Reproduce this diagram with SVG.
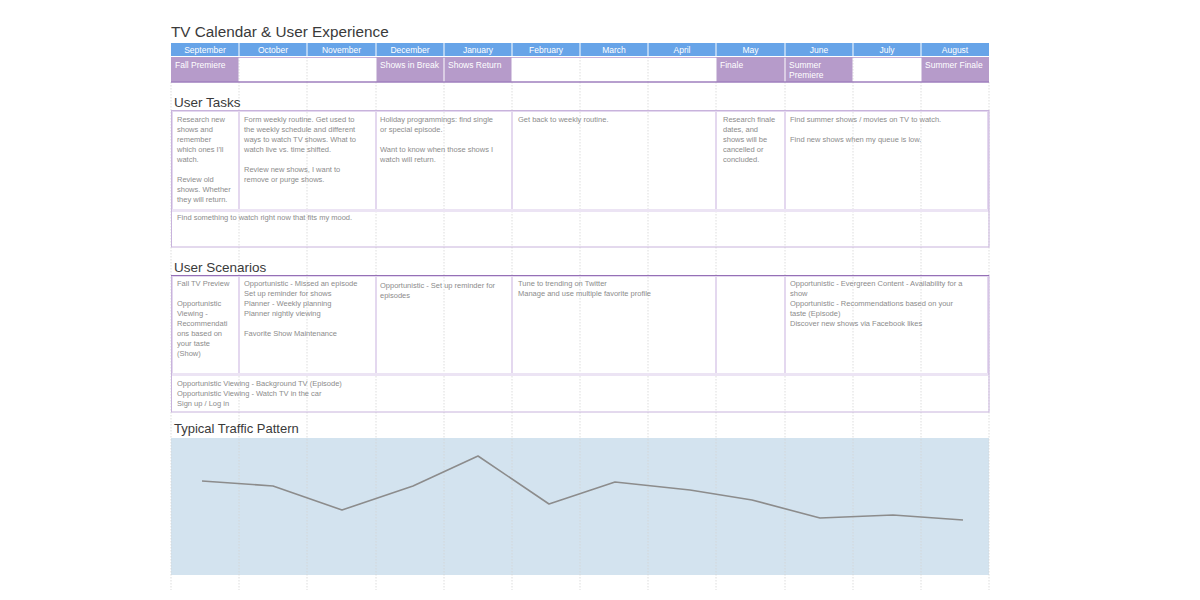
<svg xmlns="http://www.w3.org/2000/svg" width="1200" height="600" viewBox="0 0 1200 600">
<style>
.title{font-family:"Helvetica Neue","Liberation Sans",Arial,sans-serif;fill:#3a3a3a}
.hd{font-family:"Liberation Sans",Arial,sans-serif;font-size:8.5px;fill:#fff;text-anchor:middle}
.ev{font-family:"Liberation Sans",Arial,sans-serif;font-size:8.5px;fill:#fff}
.tx{font-family:"Liberation Sans",Arial,sans-serif;font-size:7.5px;fill:#8c8c8c}
.hcell{fill:#67a4e8}
.evp{fill:#b69bca}
.grid{stroke:#d4d4d4;stroke-width:0.8;stroke-dasharray:1.5,1.5}
.cell{fill:none;stroke:#e4d8ef;stroke-width:2}
</style>
<rect width="1200" height="600" fill="#fff"/>
<text class="title" x="171" y="37" font-size="15.3">TV Calendar &amp; User Experience</text>

<g id="traffic-area"><rect x="171" y="438" width="818" height="137" fill="#d3e3ef"/></g>

<g id="gridlines">
<line class="grid" x1="171" y1="82" x2="171" y2="590"/>
<line class="grid" x1="239" y1="82" x2="239" y2="590"/>
<line class="grid" x1="307" y1="82" x2="307" y2="590"/>
<line class="grid" x1="376" y1="82" x2="376" y2="590"/>
<line class="grid" x1="444" y1="82" x2="444" y2="590"/>
<line class="grid" x1="512" y1="82" x2="512" y2="590"/>
<line class="grid" x1="580" y1="82" x2="580" y2="590"/>
<line class="grid" x1="648" y1="82" x2="648" y2="590"/>
<line class="grid" x1="716" y1="82" x2="716" y2="590"/>
<line class="grid" x1="785" y1="82" x2="785" y2="590"/>
<line class="grid" x1="853" y1="82" x2="853" y2="590"/>
<line class="grid" x1="921" y1="82" x2="921" y2="590"/>
<line class="grid" x1="989" y1="82" x2="989" y2="590"/>
<line class="grid" x1="239" y1="57" x2="239" y2="82"/>
<line class="grid" x1="307" y1="57" x2="307" y2="82"/>
<line class="grid" x1="580" y1="57" x2="580" y2="82"/>
<line class="grid" x1="648" y1="57" x2="648" y2="82"/>
<line class="grid" x1="853" y1="57" x2="853" y2="82"/>
</g>

<g id="months">
<rect class="hcell" x="171" y="43" width="67.5" height="13"/>
<rect class="hcell" x="239.5" y="43" width="67" height="13"/>
<rect class="hcell" x="307.5" y="43" width="68" height="13"/>
<rect class="hcell" x="376.5" y="43" width="67" height="13"/>
<rect class="hcell" x="444.5" y="43" width="67" height="13"/>
<rect class="hcell" x="512.5" y="43" width="67" height="13"/>
<rect class="hcell" x="580.5" y="43" width="67" height="13"/>
<rect class="hcell" x="648.5" y="43" width="67" height="13"/>
<rect class="hcell" x="716.5" y="43" width="68" height="13"/>
<rect class="hcell" x="785.5" y="43" width="67" height="13"/>
<rect class="hcell" x="853.5" y="43" width="67" height="13"/>
<rect class="hcell" x="921.5" y="43" width="67.5" height="13"/>
<text class="hd" x="205" y="52.5">September</text>
<text class="hd" x="273" y="52.5">October</text>
<text class="hd" x="341.5" y="52.5">November</text>
<text class="hd" x="410" y="52.5">December</text>
<text class="hd" x="478" y="52.5">January</text>
<text class="hd" x="546" y="52.5">February</text>
<text class="hd" x="614" y="52.5">March</text>
<text class="hd" x="682" y="52.5">April</text>
<text class="hd" x="750.5" y="52.5">May</text>
<text class="hd" x="819" y="52.5">June</text>
<text class="hd" x="887" y="52.5">July</text>
<text class="hd" x="955" y="52.5">August</text>
</g>

<g id="events">
<line x1="171" y1="57.5" x2="989" y2="57.5" stroke="#c7b2da" stroke-width="1"/>
<rect class="evp" x="171" y="57" width="67.5" height="25"/>
<rect class="evp" x="376.5" y="57" width="67" height="25"/>
<rect class="evp" x="444.5" y="57" width="67" height="25"/>
<rect class="evp" x="716.5" y="57" width="68" height="25"/>
<rect class="evp" x="785.5" y="57" width="67" height="25"/>
<rect class="evp" x="921.5" y="57" width="67.5" height="25"/>
<line x1="171" y1="82" x2="989" y2="82" stroke="#9f7fbe" stroke-width="1.5"/>
<text class="ev" x="175" y="68">Fall Premiere</text>
<text class="ev" x="380" y="68">Shows in Break</text>
<text class="ev" x="448" y="68">Shows Return</text>
<text class="ev" x="720" y="68">Finale</text>
<text class="ev" x="789" y="68">Summer</text>
<text class="ev" x="789" y="78">Premiere</text>
<text class="ev" x="925" y="68">Summer Finale</text>
</g>

<g id="user-tasks">
<text class="title" x="174" y="107" font-size="13.5">User Tasks</text>
<rect class="cell" x="172" y="111" width="67" height="99"/>
<rect class="cell" x="239" y="111" width="137" height="99"/>
<rect class="cell" x="376" y="111" width="136" height="99"/>
<rect class="cell" x="512" y="111" width="204" height="99"/>
<rect class="cell" x="716" y="111" width="69" height="99"/>
<rect class="cell" x="785" y="111" width="203" height="99"/>
<line x1="172" y1="210.5" x2="988" y2="210.5" stroke="#ece4f4" stroke-width="3"/>
<rect x="171.5" y="110.5" width="817.5" height="136.5" fill="none" stroke="#c8b3dc" stroke-width="1"/>
<text class="tx" x="177" y="122"><tspan x="177">Research new</tspan><tspan x="177" dy="10">shows and</tspan><tspan x="177" dy="10">remember</tspan><tspan x="177" dy="10">which ones I'll</tspan><tspan x="177" dy="10">watch.</tspan><tspan x="177" dy="20">Review old</tspan><tspan x="177" dy="10">shows. Whether</tspan><tspan x="177" dy="10">they will return.</tspan></text>
<text class="tx" x="244" y="122"><tspan x="244">Form weekly routine. Get used to</tspan><tspan x="244" dy="10">the weekly schedule and different</tspan><tspan x="244" dy="10">ways to watch TV shows. What to</tspan><tspan x="244" dy="10">watch live vs. time shifted.</tspan><tspan x="244" dy="20">Review new shows, I want to</tspan><tspan x="244" dy="10">remove or purge shows.</tspan></text>
<text class="tx" x="380" y="122"><tspan x="380">Holiday programmings: find single</tspan><tspan x="380" dy="10">or special episode.</tspan><tspan x="380" dy="20">Want to know when those shows I</tspan><tspan x="380" dy="10">watch will return.</tspan></text>
<text class="tx" x="518" y="122">Get back to weekly routine.</text>
<text class="tx" x="723" y="122"><tspan x="723">Research finale</tspan><tspan x="723" dy="10">dates, and</tspan><tspan x="723" dy="10">shows will be</tspan><tspan x="723" dy="10">cancelled or</tspan><tspan x="723" dy="10">concluded.</tspan></text>
<text class="tx" x="790" y="122"><tspan x="790">Find summer shows / movies on TV to watch.</tspan><tspan x="790" dy="20">Find new shows when my queue is low.</tspan></text>
<text class="tx" x="177" y="220">Find something to watch right now that fits my mood.</text>
</g>

<g id="user-scenarios">
<text class="title" x="174" y="272" font-size="13.5">User Scenarios</text>
<rect class="cell" x="172" y="276" width="67" height="98"/>
<rect class="cell" x="239" y="276" width="137" height="98"/>
<rect class="cell" x="376" y="276" width="136" height="98"/>
<rect class="cell" x="512" y="276" width="204" height="98"/>
<rect class="cell" x="716" y="276" width="69" height="98"/>
<rect class="cell" x="785" y="276" width="203" height="98"/>
<line x1="172" y1="374.5" x2="988" y2="374.5" stroke="#ece4f4" stroke-width="3"/>
<rect x="171.5" y="275.5" width="817.5" height="136.5" fill="none" stroke="#c8b3dc" stroke-width="1"/>
<line x1="171" y1="275.5" x2="989" y2="275.5" stroke="#9570b6" stroke-width="1.2"/>
<text class="tx" x="177" y="286"><tspan x="177">Fall TV Preview</tspan><tspan x="177" dy="20">Opportunistic</tspan><tspan x="177" dy="10">Viewing -</tspan><tspan x="177" dy="10">Recommendati</tspan><tspan x="177" dy="10">ons based on</tspan><tspan x="177" dy="10">your taste</tspan><tspan x="177" dy="10">(Show)</tspan></text>
<text class="tx" x="244" y="286"><tspan x="244">Opportunistic - Missed an episode</tspan><tspan x="244" dy="10">Set up reminder for shows</tspan><tspan x="244" dy="10">Planner - Weekly planning</tspan><tspan x="244" dy="10">Planner nightly viewing</tspan><tspan x="244" dy="20">Favorite Show Maintenance</tspan></text>
<text class="tx" x="380" y="288"><tspan x="380">Opportunistic - Set up reminder for</tspan><tspan x="380" dy="10">episodes</tspan></text>
<text class="tx" x="518" y="286"><tspan x="518">Tune to trending on Twitter</tspan><tspan x="518" dy="10">Manage and use multiple favorite profile</tspan></text>
<text class="tx" x="790" y="286"><tspan x="790">Opportunistic - Evergreen Content - Availability for a</tspan><tspan x="790" dy="10">show</tspan><tspan x="790" dy="10">Opportunistic - Recommendations based on your</tspan><tspan x="790" dy="10">taste (Episode)</tspan><tspan x="790" dy="10">Discover new shows via Facebook likes</tspan></text>
<text class="tx" x="177" y="386"><tspan x="177">Opportunistic Viewing - Background TV (Episode)</tspan><tspan x="177" dy="10">Opportunistic Viewing - Watch TV in the car</tspan><tspan x="177" dy="10">Sign up / Log in</tspan></text>
</g>

<g id="traffic-pattern">
<text class="title" x="174" y="433" font-size="13">Typical Traffic Pattern</text>
<polyline points="202,481 273,486 342,510 413,486 478,456 549,504 615,482 690,490 752,500 820,518 893,515 963,520" fill="none" stroke="#8c8c8c" stroke-width="1.6" stroke-linejoin="round"/>
</g>
</svg>
